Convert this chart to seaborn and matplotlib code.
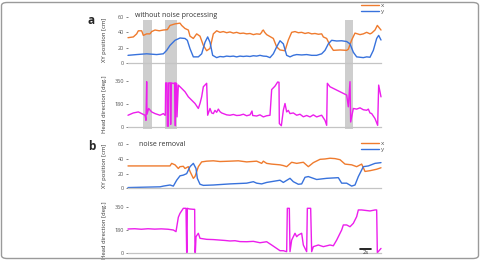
import numpy as np
import pandas as pd
import matplotlib
matplotlib.use("Agg")
import matplotlib.pyplot as plt
import seaborn as sns
from matplotlib.patches import FancyBboxPatch

FPS = 16.5  # video frames per second

# ---------------- panel a : without noise processing ----------------
a_x_frames = [0, 16, 26, 31, 41, 46, 56, 66, 71, 81, 94, 106, 118, 126, 141, 156, 161, 171, 181, 186, 196,
              206, 216, 226, 236, 246, 256, 266, 276, 286, 296, 306, 316, 326, 336, 346, 356, 366, 376,
              386, 396, 401, 403, 406, 410, 416, 436,
              446, 456, 471, 481, 491, 501, 511, 521, 531, 541, 551, 561, 571, 581, 586, 596, 606, 616,
              636, 656, 661, 671, 681, 696, 706, 716, 726, 731, 741, 748, 759]
a_x_vals = [33, 34, 38, 42, 42, 36, 38, 38, 41, 43, 42, 43, 43.5, 49, 51, 52, 49, 45, 43, 35, 32,
            38, 35, 23, 16, 19, 38, 42, 40, 41, 39.5, 40.5, 39, 40, 38.5, 39, 38, 38.5, 37,
            38, 37.5, 40, 42, 43, 40, 37, 32,
            21, 17, 16, 30, 40, 41, 39.5, 40, 38.5, 39.5, 38, 38.5, 37.5, 38, 34, 32, 23, 16.5,
            17, 16.5, 18, 30, 39, 37, 38, 40, 38, 39, 43, 49, 43]

a_y_frames = [0, 26, 56, 86, 106, 116, 126, 141, 156, 171, 178, 186, 196, 211, 221, 231, 239, 246, 254,
              266, 276, 286, 296, 306, 316, 326, 336, 346, 356, 366, 376, 386, 396, 406, 416, 426,
              436, 446, 456, 466, 476, 486, 496, 506, 521, 536, 551, 566, 581, 591,
              601, 611, 626, 641, 656, 666, 676, 686, 696, 706, 716, 726, 736, 746, 752, 759]
a_y_vals = [10, 11, 12, 11, 12, 16.5, 23, 29.6, 32.6, 32, 29.6, 18.7, 8, 8, 12, 27, 34, 27, 10,
            7, 8.5, 8, 9, 8.5, 9, 8, 9, 8.5, 9, 8.5, 9.5, 9, 10, 9, 8.7, 7,
            12, 21, 29, 25, 10, 8, 10, 11, 10.5, 11, 10, 10, 12, 16.5,
            25, 29.6, 28.7, 29, 28, 25, 14, 8, 7.5, 7, 8, 7.5, 16.5, 32, 36, 30]

a_hd_frames = [0, 16, 31, 41, 51, 54, 56, 57, 62, 71, 81, 96, 106, 111, 112, 113, 117, 118, 121, 122,
               127, 128, 130, 136, 140, 142, 143, 146, 147, 151, 161, 171, 181, 191, 201, 211, 216,
               221, 226, 236, 239, 246, 251, 256, 261, 266, 271, 276, 281, 286, 296, 306, 316, 326,
               336, 346, 356, 366, 372, 374, 386, 396, 406, 416, 426, 431, 441, 449,
               453, 454, 460, 466, 471, 476, 481, 486, 496, 506, 516, 526, 536, 546, 556, 566, 576,
               581, 591, 596, 598, 606, 626, 646,
               656, 661, 666, 668, 676, 686, 696, 706, 716, 721, 726, 731, 741, 749, 752, 759]
a_hd_vals = [92, 110, 118, 105, 92, 52, 355, 100, 145, 118, 105, 92, 105, 92, 92, 345, 345, 5, 5, 345,
             345, 20, 345, 340, 345, 10, 345, 340, 79, 328, 302, 276, 236, 210, 184, 145, 184,
             236, 315, 342, 92, 145, 110, 105, 130, 115, 140, 120, 110, 105, 95, 92, 98, 90,
             92, 100, 88, 95, 125, 90, 86, 95, 79, 88, 92, 293, 320, 352,
             350, 27, 10, 131, 184, 118, 130, 105, 110, 92, 100, 80, 90, 79, 95, 79, 88,
             92, 52, 13, 342, 315, 289, 263,
             250, 158, 355, 39, 145, 140, 150, 135, 131, 140, 110, 105, 66, 13, 328, 236]

# ---------------- panel b : noise removal ----------------
b_x_frames = [0, 126, 131, 141, 151, 156, 166, 171, 181, 186, 196, 201, 211, 221, 236, 256, 276, 306,
              331, 356, 386, 401, 406, 416, 431, 456, 466, 476, 491, 506, 526, 541, 556, 576, 591,
              606, 621, 636, 651, 671, 686, 701, 711, 726, 746, 759]
b_x_vals = [30.5, 30.5, 34, 32, 27, 29.5, 30, 27, 29.5, 23, 13.6, 16, 29.5, 36, 37, 37.5, 36.5, 37,
            37.5, 36, 37, 34, 37, 34, 33, 32, 31, 29.5, 35.5, 34, 35.5, 29.5, 35, 39.5, 40,
            41, 40.5, 39, 33, 32, 29.5, 33, 23, 24, 26, 28]

b_y_frames = [0, 96, 106, 126, 136, 146, 156, 166, 176, 186, 196, 204, 208, 216, 226, 256, 306, 356,
              376, 386, 401, 416, 456, 466, 486, 496, 511, 521, 531, 541, 566, 596, 631, 641, 656,
              671, 681, 691, 706, 721, 741, 759]
b_y_vals = [1, 2, 3, 4.5, 3, 11, 17, 18, 20, 29.5, 34, 27, 13.6, 5.5, 4, 4.5, 6, 7,
            9, 7, 6, 8, 11, 8, 13.6, 9, 5.5, 6, 15, 16, 12, 13.6, 14.5, 7, 7,
            3, 4.5, 16, 29.5, 30.5, 34, 35]

b_hd_frames = [0, 20, 40, 60, 80, 100, 120, 136, 144, 151, 156, 166, 174, 176, 177, 178, 184, 196, 200,
               201, 202, 204, 211, 216, 226, 236, 256, 276, 291, 306, 321, 336, 356, 376, 396, 416,
               431, 446, 456, 466, 476, 478, 484, 486,
               491, 501, 506, 511, 521, 526, 536, 538, 548, 551, 556, 571, 586, 606, 616, 626, 641,
               646, 656, 666, 676, 686, 691, 701, 726, 741, 746, 748, 759]
b_hd_vals = [188, 190, 186, 190, 187, 189, 186, 180, 167, 281, 312, 352, 352, 0, 0, 352, 347, 344, 344,
             0, 0, 127, 154, 114, 110, 106, 104, 100, 97, 93, 95, 88, 87, 90, 79, 87,
             61, 34, 16, 16, 8, 352, 352, 8,
             100, 154, 127, 140, 154, 61, 8, 352, 352, 8, 48, 61, 48, 61, 55, 100, 180,
             220, 220, 206, 233, 286, 339, 339, 331, 339, 339, 0, 34]

# gray highlighted (noisy) periods in panel a, frames
band_starts = [45, 111, 651]
band_ends = [72, 147, 675]

ORANGE = "#ef7b2e"
BLUE = "#3872dc"
MAGENTA = "#ec1eec"
GRAY_TXT = "#555555"

sns.set_style("white")
plt.rcParams["font.family"] = ["Open Sans", "DejaVu Sans"]

W, H = 481, 260
fig = plt.figure(figsize=(W / 100, H / 100), dpi=100)

def px_rect(left, top, right, bottom):
    return [left / W, 1 - bottom / H, (right - left) / W, (bottom - top) / H]

ax_axy = fig.add_axes(px_rect(128, 17, 381, 63))
ax_ahd = fig.add_axes(px_rect(128, 81, 381, 127))
ax_bxy = fig.add_axes(px_rect(128, 144.3, 381, 188.3))
ax_bhd = fig.add_axes(px_rect(128, 207.3, 381, 252.7))

def t(frames):
    return np.asarray(frames, dtype=float) / FPS

def style(ax, ymax, ticks, ylabel):
    ax.set_facecolor("none")
    ax.set_xlim(0, 759 / FPS)
    ax.set_ylim(0, ymax)
    ax.set_yticks(ticks)
    ax.set_xticks([])
    for s in ["top", "right", "left"]:
        ax.spines[s].set_visible(False)
    ax.spines["bottom"].set_color("#c4c4c4")
    ax.spines["bottom"].set_linewidth(0.9)
    ax.tick_params(axis="y", labelsize=4, colors=GRAY_TXT, length=1.5, width=0.5, pad=1.5, left=True)
    ax.set_ylabel(ylabel, fontsize=4.2, color="#333333")
    ax.yaxis.set_label_coords(-0.083, 0.5)

def xy_panel(ax, xf, xv, yf, yv):
    sns.lineplot(x=t(xf), y=xv, ax=ax, color=ORANGE, linewidth=1.0, label="x", clip_on=False)
    sns.lineplot(x=t(yf), y=yv, ax=ax, color=BLUE, linewidth=1.0, label="y", clip_on=False)

xy_panel(ax_axy, a_x_frames, a_x_vals, a_y_frames, a_y_vals)
xy_panel(ax_bxy, b_x_frames, b_x_vals, b_y_frames, b_y_vals)
sns.lineplot(x=t(a_hd_frames), y=a_hd_vals, ax=ax_ahd, color=MAGENTA, linewidth=1.0, clip_on=False)
sns.lineplot(x=t(b_hd_frames), y=b_hd_vals, ax=ax_bhd, color=MAGENTA, linewidth=1.0, clip_on=False)

for ax in (ax_axy, ax_bxy):
    style(ax, 60, [0, 20, 40, 60], "XY position [cm]")
for ax in (ax_ahd, ax_bhd):
    style(ax, 360, [0, 180, 360], "Head direction [deg.]")

# bands spanning both panel-a axes
for s, e in zip(band_starts, band_ends):
    ax_axy.axvspan(s / FPS, e / FPS, ymin=(63 - 129) / 46, ymax=(63 - 20) / 46,
                   color="#c6c6c6", alpha=0.85, lw=0, clip_on=False, zorder=0.5)

# legends
for ax, top in ((ax_axy, 3), (ax_bxy, 141)):
    ax.legend(loc="upper right", bbox_to_anchor=(384 / W, 1 - top / H), bbox_transform=fig.transFigure,
              frameon=False, fontsize=4.5, handlelength=2.8, handletextpad=0.3, labelspacing=0.05,
              borderpad=0, borderaxespad=0, labelcolor=GRAY_TXT)

# scale bar 2 s
sb_start = 696 / FPS
ax_bhd.plot([sb_start, sb_start + 2], [26, 26], color="black", lw=1.2, clip_on=False)
ax_bhd.text(sb_start + 1, 4, "2s", fontsize=4.2, ha="center", va="center", color="#333333")

# texts
fig.text(135 / W, 1 - 15.5 / H, "without noise processing", fontsize=5, color="#333333", va="center")
fig.text(139 / W, 1 - 144.5 / H, "noise removal", fontsize=5, color="#333333", va="center")
fig.text(88 / W, 1 - 20 / H, "a", fontsize=8.5, fontweight="bold", va="center", ha="left")
fig.text(88 / W, 1 - 147 / H, "b", fontsize=8.5, fontweight="bold", va="center", ha="left")

# rounded frame around the figure
frame = FancyBboxPatch((1.5 / W, 1.5 / H), 1 - 4 / W, 1 - 4 / H,
                       boxstyle="round,pad=0,rounding_size=0.012", transform=fig.transFigure,
                       facecolor="none", edgecolor="#9a9a9a", linewidth=1.0)
fig.patches.append(frame)

fig.savefig("out.png", dpi=100)
